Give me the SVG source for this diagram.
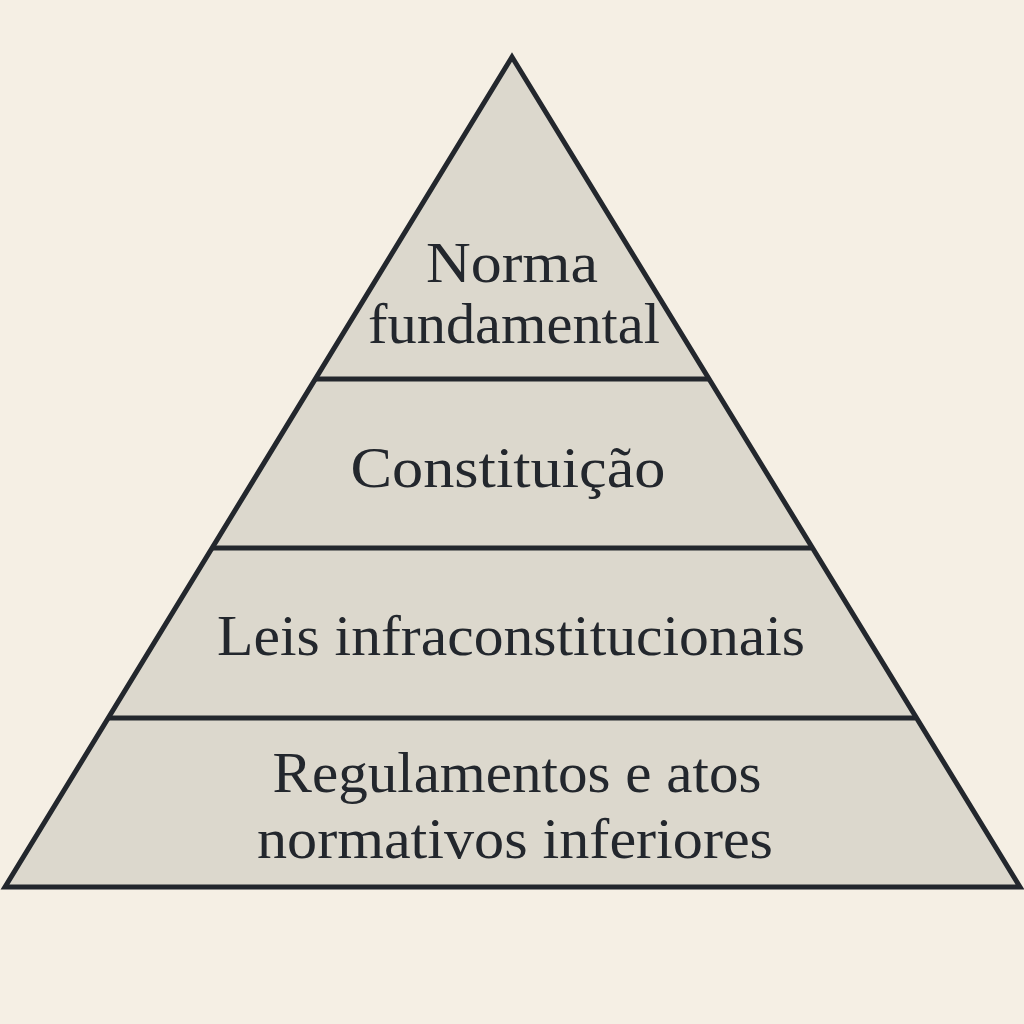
<svg xmlns="http://www.w3.org/2000/svg" width="1024" height="1024" viewBox="0 0 1024 1024">
<style>
.bg{fill:#f5efe4}
.tier{fill:#dcd8cd;stroke:none}
.edge{fill:none;stroke:#23272d;stroke-width:5;stroke-linejoin:miter}
.lbl{font-family:"Liberation Serif","DejaVu Serif",serif;font-size:58px;fill:#23272d;text-anchor:middle}
</style>
<rect class="bg" x="0" y="0" width="1024" height="1024"/>
<g id="tier1"><polygon class="tier" points="512,57 316,379 708,379"/>
<text class="lbl" x="512" y="282" textLength="172" lengthAdjust="spacingAndGlyphs">Norma</text>
<text class="lbl" x="514" y="343" textLength="292" lengthAdjust="spacingAndGlyphs">fundamental</text></g>
<g id="tier2"><polygon class="tier" points="316,379 708,379 811,548 213,548"/>
<text class="lbl" x="508" y="487" textLength="315" lengthAdjust="spacingAndGlyphs">Constituição</text></g>
<g id="tier3"><polygon class="tier" points="213,548 811,548 915,718 109,718"/>
<text class="lbl" x="511" y="655" textLength="588" lengthAdjust="spacingAndGlyphs">Leis infraconstitucionais</text></g>
<g id="tier4"><polygon class="tier" points="109,718 915,718 1020,887 5,887"/>
<text class="lbl" x="517" y="792" textLength="489" lengthAdjust="spacingAndGlyphs">Regulamentos e atos</text>
<text class="lbl" x="515" y="858" textLength="516" lengthAdjust="spacingAndGlyphs">normativos inferiores</text></g>
<g id="connectors">
<polygon class="edge" points="512,57 1020,887 5,887"/>
<line class="edge" x1="316" y1="379" x2="708" y2="379"/>
<line class="edge" x1="213" y1="548" x2="811" y2="548"/>
<line class="edge" x1="109" y1="718" x2="915" y2="718"/>
</g>
</svg>
